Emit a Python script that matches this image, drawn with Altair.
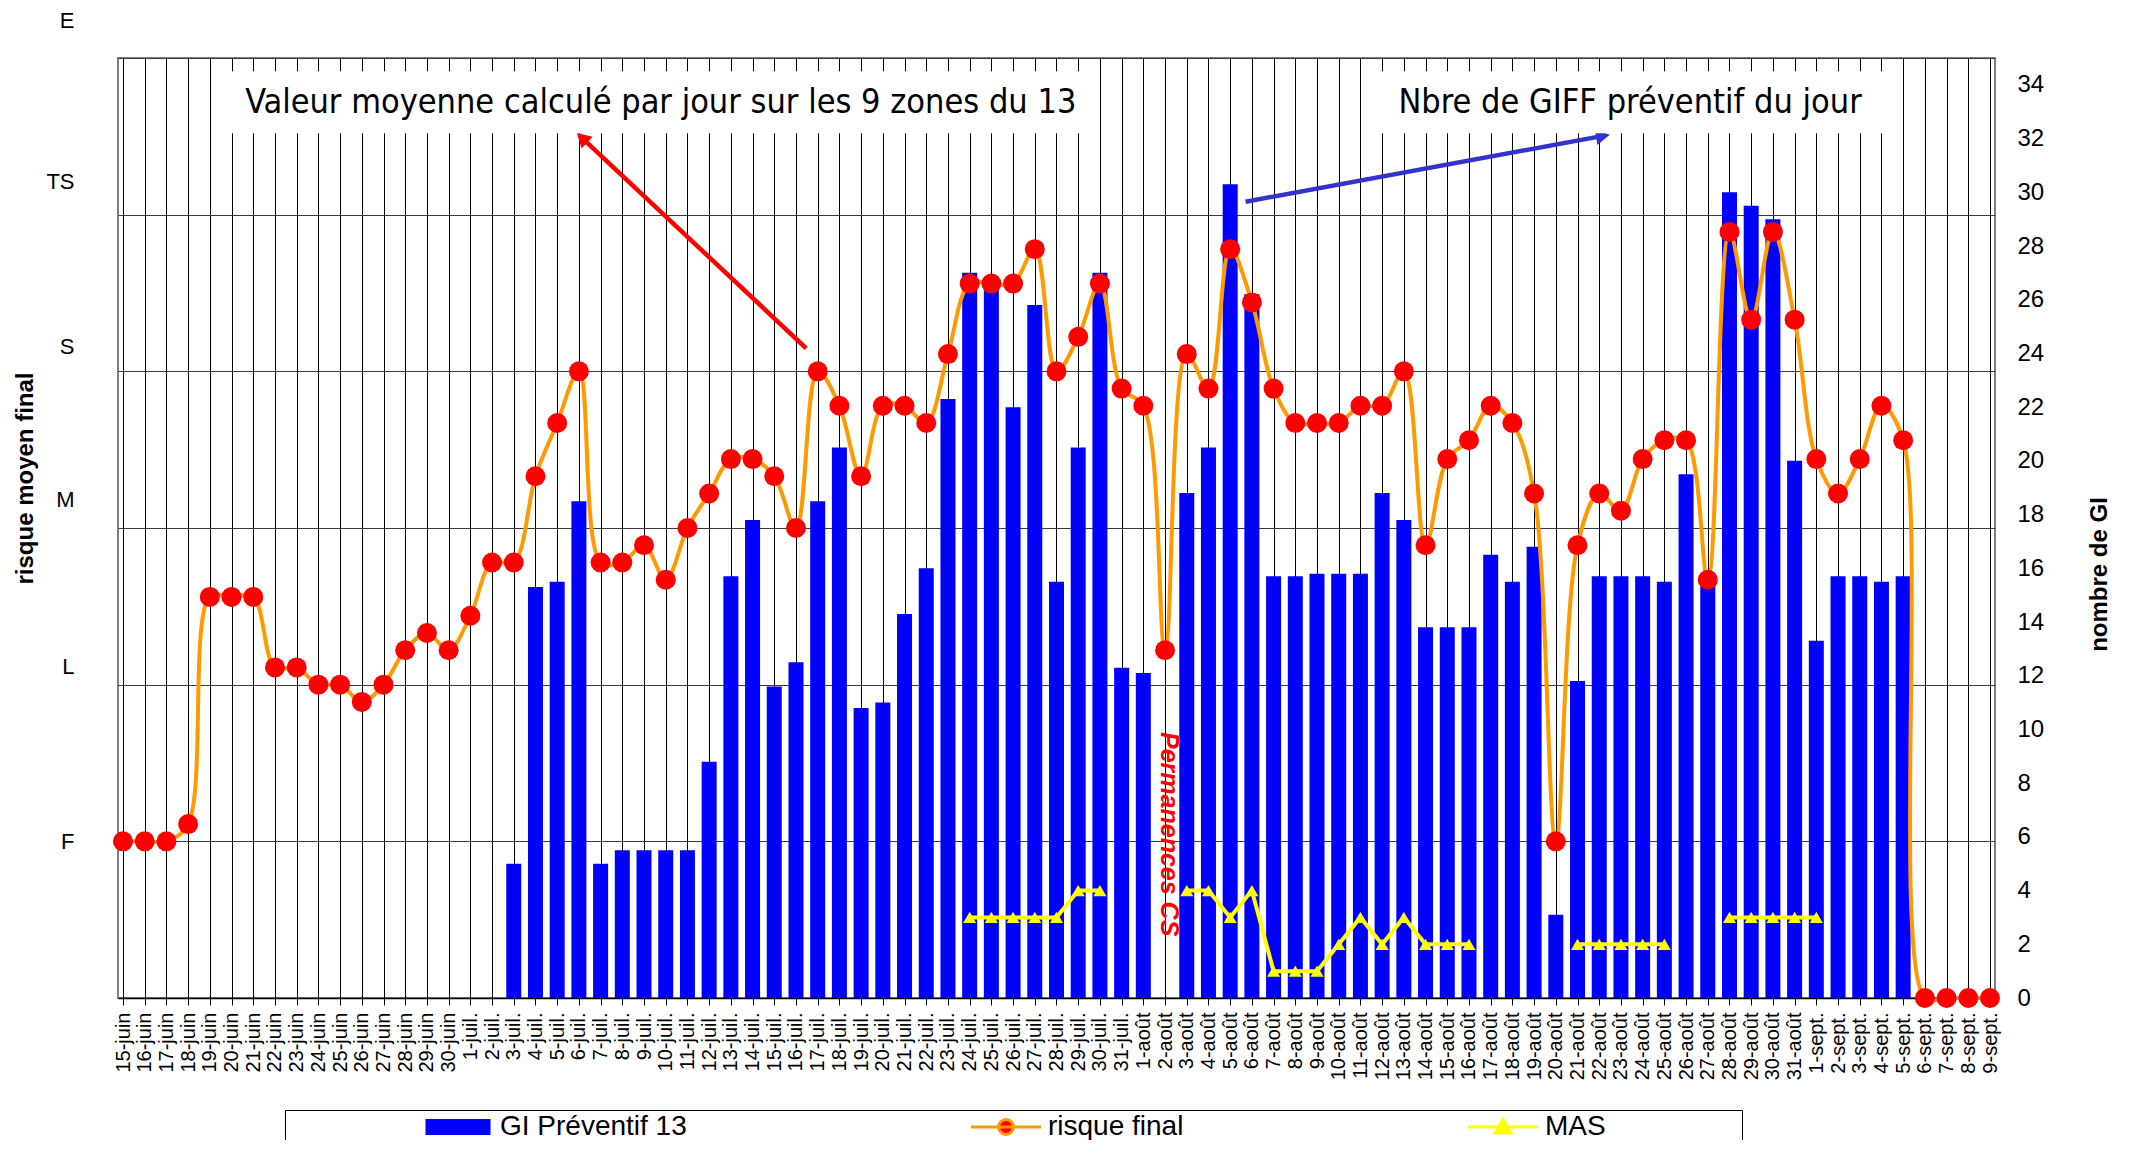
import json
import altair as alt
import pandas as pd

# ---------------- data ----------------
dates = [
    "15-juin", "16-juin", "17-juin", "18-juin", "19-juin", "20-juin", "21-juin", "22-juin",
    "23-juin", "24-juin", "25-juin", "26-juin", "27-juin", "28-juin", "29-juin", "30-juin",
    "1-juil.", "2-juil.", "3-juil.", "4-juil.", "5-juil.", "6-juil.", "7-juil.", "8-juil.",
    "9-juil.", "10-juil.", "11-juil.", "12-juil.", "13-juil.", "14-juil.", "15-juil.", "16-juil.",
    "17-juil.", "18-juil.", "19-juil.", "20-juil.", "21-juil.", "22-juil.", "23-juil.", "24-juil.",
    "25-juil.", "26-juil.", "27-juil.", "28-juil.", "29-juil.", "30-juil.", "31-juil.",
    "1-août", "2-août", "3-août", "4-août", "5-août", "6-août", "7-août", "8-août",
    "9-août", "10-août", "11-août", "12-août", "13-août", "14-août", "15-août", "16-août",
    "17-août", "18-août", "19-août", "20-août", "21-août", "22-août", "23-août", "24-août",
    "25-août", "26-août", "27-août", "28-août", "29-août", "30-août", "31-août",
    "1-sept.", "2-sept.", "3-sept.", "4-sept.", "5-sept.", "6-sept.", "7-sept.", "8-sept.", "9-sept.",
]

# risque final (F=1, L=2, M=3, S=4, TS=5, E=6)
risque = [
    1.0, 1.0, 1.0, 1.11, 2.56, 2.56, 2.56, 2.11, 2.11, 2.0, 2.0, 1.89, 2.0, 2.22, 2.33, 2.22,
    2.44, 2.78, 2.78, 3.33, 3.67, 4.0, 2.78, 2.78, 2.89, 2.67, 3.0, 3.22, 3.44, 3.44, 3.33, 3.0,
    4.0, 3.78, 3.33, 3.78, 3.78, 3.67, 4.11, 4.56, 4.56, 4.56, 4.78, 4.0, 4.22, 4.56, 3.89,
    3.78, 2.22, 4.11, 3.89, 4.78, 4.44, 3.89, 3.67, 3.67, 3.67, 3.78, 3.78, 4.0, 2.89, 3.44, 3.56,
    3.78, 3.67, 3.22, 1.0, 2.89, 3.22, 3.11, 3.44, 3.56, 3.56, 2.67, 4.89, 4.33, 4.89, 4.33,
    3.44, 3.22, 3.44, 3.78, 3.56, 0.0, 0.0, 0.0, 0.0,
]

# GI Préventif 13
gi = [
    0, 0, 0, 0, 0, 0, 0, 0, 0, 0, 0, 0, 0, 0, 0, 0,
    0, 0, 5.0, 15.3, 15.5, 18.5, 5.0, 5.5, 5.5, 5.5, 5.5, 8.8, 15.7, 17.8, 11.6, 12.5,
    18.5, 20.5, 10.8, 11.0, 14.3, 16.0, 22.3, 27.0, 26.8, 22.0, 25.8, 15.5, 20.5, 27.0, 12.3,
    12.1, 0, 18.8, 20.5, 30.3, 26.2, 15.7, 15.7, 15.8, 15.8, 15.8, 18.8, 17.8, 13.8, 13.8, 13.8,
    16.5, 15.5, 16.8, 3.1, 11.8, 15.7, 15.7, 15.7, 15.5, 19.5, 15.6, 30.0, 29.5, 29.0, 20.0,
    13.3, 15.7, 15.7, 15.5, 15.7, 0, 0, 0, 0,
]

N = None
# MAS
mas = (
    [N] * 16
    + [N] * 23 + [3, 3, 3, 3, 3, 4, 4, N]
    + [N, N, 4, 4, 3, 4, 1, 1, 1, 2, 3, 2, 3, 2, 2, 2, N, N, N, N, 2, 2, 2, 2, 2, N, N, 3, 3, 3, 3]
    + [3] + [N] * 8
)

niveaux = ["", "F", "L", "M", "S", "TS", "E"]
gi_ticks = [0, 2, 4, 6, 8, 10, 12, 14, 16, 18, 20, 22, 24, 26, 28, 30, 32, 34]

serie_noms = ["GI Préventif 13", "risque final", "MAS"]

boites = [
    {"x1": 4.62, "x2": 44.92, "y1": 32.20, "y2": 34.51, "xc": 24.77, "yc": 33.36,
     "texte": "Valeur moyenne calculé par jour sur les 9 zones du 13"},
    {"x1": 57.67, "x2": 81.17, "y1": 32.20, "y2": 34.51, "xc": 69.42, "yc": 33.36,
     "texte": "Nbre de GIFF préventif du jour"},
]
fleches = [
    {"x1": 31.47, "y1": 24.19, "x2": 21.14, "y2": 32.03, "ang": 313, "coul": "#FF0000"},
    {"x1": 51.71, "y1": 29.65, "x2": 68.17, "y2": 32.10, "ang": 80, "coul": "#3333CC"},
]
note = [{"x": 48.2, "y": 6.1, "texte": "Permanences CS"}]

# ---------------- frames ----------------
seg = []
s = 0
prev = None
for v in mas:
    if v is not None and prev is None:
        s += 1
    seg.append(s if v is not None else None)
    prev = v

df = pd.DataFrame({
    "i": list(range(len(dates))),
    "date": dates,
    "risque": risque,
    "gi": gi,
    "mas": mas,
    "seg": seg,
})

FONT = "Liberation Sans"
NARROW = "DejaVu Sans Condensed, Liberation Sans, sans-serif"

x_scale = alt.Scale(domain=[0, len(dates) - 1], nice=False, zero=False)
x_axis = alt.Axis(
    values=list(range(len(dates))),
    labelExpr=json.dumps(dates, ensure_ascii=False) + "[datum.value]",
    labelAngle=270, labelFont=FONT, labelFontSize=20, labelColor="black",
    labelOverlap=False, labelFlush=False, labelPadding=7,
    tickSize=7, tickColor="black", domainColor="black", domainWidth=1.5,
    grid=True, gridColor="#000000", gridWidth=1, gridOpacity=1,
    title=None,
)


def X(field):
    return alt.X(field, type="quantitative", scale=x_scale, axis=x_axis)


gi_scale = alt.Scale(domain=[0, 35], nice=False, zero=True)
gi_axis = alt.Axis(
    orient="right", values=gi_ticks, grid=False, domain=False, ticks=False, tickSize=0,
    labelPadding=22, labelFont=FONT, labelFontSize=24, labelColor="black",
    title="nombre de GI", titleFont=FONT, titleFontSize=24, titleFontWeight="bold",
    titleColor="black", titleAngle=270, titleBaseline="middle", titleAlign="center",
    titleX=104, titleY=516,
)


def YG(field):
    return alt.Y(field, type="quantitative", scale=gi_scale, axis=gi_axis)


r_scale = alt.Scale(domain=[0, 6], nice=False, zero=True)
r_axis = alt.Axis(
    orient="left", values=[1, 2, 3, 4, 5, 6],
    labelExpr=json.dumps(niveaux) + "[datum.value]",
    labelOffset={"expr": "datum.value == 2 ? -18 : datum.value == 3 ? -29 : datum.value == 4 ? -25 : datum.value == 5 ? -33 : datum.value == 6 ? -38 : 0"},
    grid=True, gridColor="#3a3a3a", gridWidth=1.2, domain=False, ticks=False, tickSize=0,
    labelPadding=44, labelFont=FONT, labelFontSize=22, labelColor="black",
    title="risque moyen final", titleFont=FONT, titleFontSize=24, titleFontWeight="bold",
    titleColor="black", titleAngle=270, titleBaseline="middle", titleAlign="center",
    titleX=-93, titleY=420,
)

base = alt.Chart(df)

bars = base.mark_bar(color="#0000FF", size=15).encode(x=X("i"), y=YG("gi"))

mas_df = df[df["mas"].notna()]
mas_line = alt.Chart(mas_df).mark_line(color="#FFFF00", strokeWidth=4).encode(
    x=X("i"), y=YG("mas"), detail="seg:N"
)
mas_pts = alt.Chart(mas_df).mark_point(
    shape="triangle-up", filled=True, color="#FFFF00", size=170, opacity=1
).encode(x=X("i"), y=YG("mas"))

bdf = pd.DataFrame(boites)
boxes = alt.Chart(bdf).mark_bar(fill="#FFFFFF", opacity=1, strokeWidth=0).encode(
    x=X("x1"), x2=alt.X2("x2"), y=YG("y1"), y2=alt.Y2("y2")
)
box_txt = alt.Chart(bdf).mark_text(
    font=NARROW, fontSize=34, color="black", align="center", baseline="middle", dy=1
).encode(x=X("xc"), y=YG("yc"), text="texte:N")

fdf = pd.DataFrame(fleches)
arrows = alt.Chart(fdf).mark_rule(strokeWidth=4.5).encode(
    x=X("x1"), y=YG("y1"), x2=alt.X2("x2"), y2=alt.Y2("y2"),
    color=alt.Color("coul:N", scale=None),
)
heads = alt.Chart(fdf).mark_point(shape="triangle-up", filled=True, size=260, opacity=1).encode(
    x=X("x2"), y=YG("y2"),
    angle=alt.Angle("ang:Q", scale=None),
    color=alt.Color("coul:N", scale=None),
)

note_txt = alt.Chart(pd.DataFrame(note)).mark_text(
    angle=90, font=FONT, fontSize=25, fontWeight="bold", fontStyle="italic",
    color="#FF0000", align="center", baseline="middle",
).encode(x=X("x"), y=YG("y"), text="texte:N")

groupe_gi = alt.layer(bars, mas_line, mas_pts, note_txt, arrows, heads, boxes, box_txt)

r_line = base.mark_line(color="#FF9900", strokeWidth=4, interpolate="catmull-rom").encode(
    x=X("i"), y=alt.Y("risque:Q", scale=r_scale, axis=r_axis)
)
r_pts = base.mark_point(filled=True, color="#FF0000", size=400, opacity=1).encode(
    x=X("i"), y=alt.Y("risque:Q", scale=r_scale, axis=r_axis)
)
groupe_r = alt.layer(r_line, r_pts)

# legend (entries only, drawn by the legend guide)
leg_df = pd.DataFrame({"serie": serie_noms})
leg_fill = ["#0000FF", "#FF0000", "#FFFF00"]
leg_stroke = ["#0000FF", "#FF9900", "#FFFF00"]
leg_shapes = [
    "M-3.1,-0.65 H3.1 V0.65 H-3.1 Z",
    "M-3.5,0 H3.5 M-0.75,0 A0.75,0.75 0 1,0 0.75,0 A0.75,0.75 0 1,0 -0.75,0 Z",
    "M-3.5,0 H3.5 M0,-0.75 L0.8,0.6 L-0.8,0.6 Z M23.0,0",
]
leg = alt.Legend(
    orient="none", legendX=167, legendY=1052, direction="horizontal", columns=3,
    title=None, symbolSize=400, symbolStrokeWidth=3, symbolOffset=156, labelOffset=28,
    columnPadding=149, padding=3, strokeColor="black", fillColor="white",
    labelFont=FONT, labelFontSize=28, labelColor="black", labelLimit=600,
    symbolOpacity=1,
)
legend_layer = alt.Chart(leg_df).transform_filter("false").mark_point(filled=True).encode(
    fill=alt.Fill("serie:N", scale=alt.Scale(domain=serie_noms, range=leg_fill), legend=leg),
    stroke=alt.Stroke("serie:N", scale=alt.Scale(domain=serie_noms, range=leg_stroke), legend=leg),
    shape=alt.Shape("serie:N", scale=alt.Scale(domain=serie_noms, range=leg_shapes), legend=leg),
)

chart = (
    alt.layer(groupe_gi, groupe_r, legend_layer)
    .resolve_scale(y="independent")
    .properties(
        width=1877, height=940,
        autosize=alt.AutoSizeParams(type="none"),
        padding={"left": 110, "top": 50, "right": 137, "bottom": 142},
        background="white",
    )
    .configure_view(fill="#E8E8E5", stroke="#808080", strokeWidth=2)
)

chart.save("out.html", embed_options={"renderer": "svg", "actions": False})
